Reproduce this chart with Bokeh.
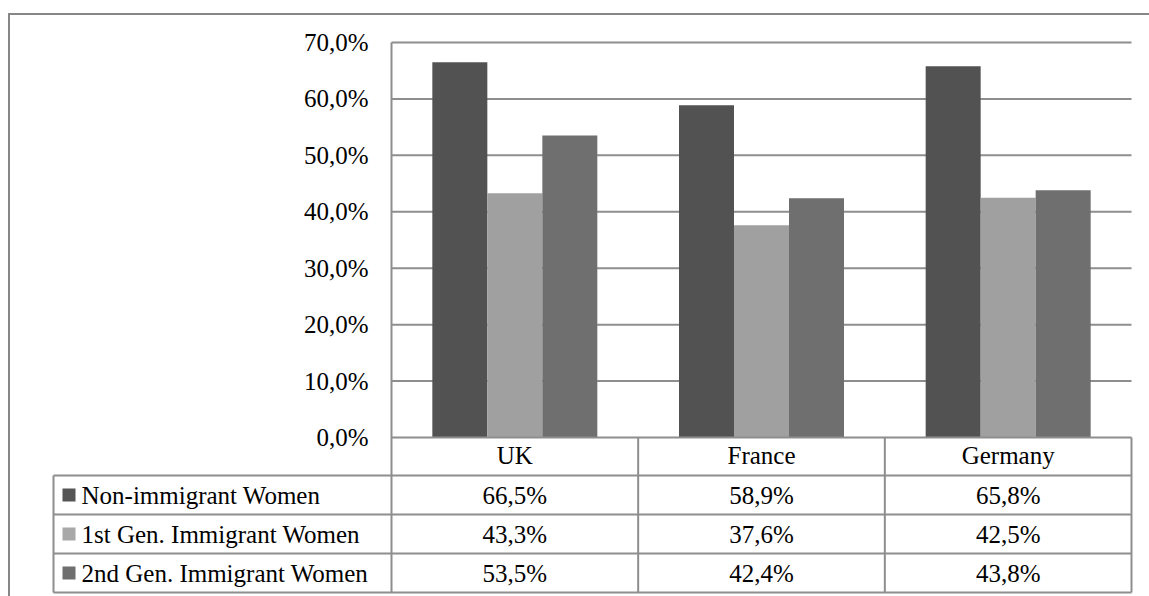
from bokeh.plotting import figure
from bokeh.models import Range1d, LinearAxis, FixedTicker
from bokeh.core.properties import value
from bokeh.embed import file_html
from bokeh.resources import INLINE

# ---------------- data ----------------
countries = ["UK", "France", "Germany"]
series_names = ["Non-immigrant Women", "1st Gen. Immigrant Women", "2nd Gen. Immigrant Women"]
non_immigrant = [66.5, 58.9, 65.8]
first_gen = [43.3, 37.6, 42.5]
second_gen = [53.5, 42.4, 43.8]
y_ticks = [0, 10, 20, 30, 40, 50, 60, 70]
y_tick_labels = ["0,0%", "10,0%", "20,0%", "30,0%", "40,0%", "50,0%", "60,0%", "70,0%"]

all_series = [non_immigrant, first_gen, second_gen]

# ---------------- style ----------------
bar_colors = ["#525252", "#a0a0a0", "#6f6f6f"]
key_colors = ["#555555", "#a8a8a8", "#6f6f6f"]
LINE = "#8e8e8e"
FONT = "Liberation Serif"
FS = "25px"

# ---------------- layout (canvas pixels) ----------------
W, H = 1149, 596
PL, PR, PT, PB = 391, 1131, 42, 437
ROW_Y = [437, 475, 514, 553, 592]
TABLE_L = 53
KEY_CX = 68.5
LABEL_X = 81
BAR_PX = 55
BORDER_X, BORDER_Y = 8.5, 13.5

ux = (PR - PL) / len(countries)
uy = (PB - PT) / y_ticks[-1]


def dx(px):
    return (px - PL) / ux


def dy(py):
    return (PB - py) / uy


p = figure(width=W, height=H,
           x_range=Range1d(dx(0), dx(W)), y_range=Range1d(dy(H), dy(0)),
           output_backend="svg", toolbar_location=None,
           x_axis_type=None, y_axis_type=None, min_border=0,
           outline_line_color=None, background_fill_color="white",
           border_fill_color="white")

# grid lines
grid_vals = y_ticks[1:]
p.segment(x0=[0] * len(grid_vals), x1=[len(countries)] * len(grid_vals),
          y0=grid_vals, y1=grid_vals, line_color=LINE, line_width=2)

# bars
bw = BAR_PX / ux
nser = len(all_series)
for s, vals in enumerate(all_series):
    xs = [i + 0.5 + (s - (nser - 1) / 2) * bw for i in range(len(countries))]
    p.vbar(x=xs, top=vals, bottom=0, width=bw, fill_color=bar_colors[s],
           line_color=None)

# table lines
tl = dx(TABLE_L)
hy = [dy(r) for r in ROW_Y[1:]]
p.segment(x0=[tl] * len(hy), x1=[len(countries)] * len(hy), y0=hy, y1=hy,
          line_color=LINE, line_width=2)
vx = [tl] + list(range(1, len(countries) + 1))
vy0 = [dy(ROW_Y[1])] + [0] * len(countries)
p.segment(x0=vx, x1=vx, y0=vy0, y1=[dy(ROW_Y[-1])] * len(vx),
          line_color=LINE, line_width=2)

# outer chart border (top and left; right/bottom lie outside the view)
p.segment(x0=[dx(BORDER_X - 1), dx(BORDER_X)], x1=[dx(W), dx(BORDER_X)],
          y0=[dy(BORDER_Y), dy(BORDER_Y - 1)], y1=[dy(BORDER_Y), dy(H)],
          line_color="#878787", line_width=2)

# y axis (real axis placed at the plot's left edge)
yax = LinearAxis(fixed_location=0, bounds=(dy(ROW_Y[-1]), y_ticks[-1]),
                 ticker=FixedTicker(ticks=y_ticks),
                 major_label_overrides=dict(zip(y_ticks, y_tick_labels)),
                 major_tick_in=0, major_tick_out=0, minor_tick_in=0, minor_tick_out=0,
                 major_label_standoff=23, axis_line_color=LINE, axis_line_width=2,
                 major_label_text_font=FONT, major_label_text_font_size=FS,
                 major_label_text_color="black")
p.add_layout(yax, "left")

# x axis (category names in table header row)
cat_x = [i + 0.5 for i in range(len(countries))]
xax = LinearAxis(fixed_location=0, bounds=(0, len(countries)),
                 ticker=FixedTicker(ticks=cat_x),
                 major_label_overrides=dict(zip(cat_x, countries)),
                 major_tick_in=0, major_tick_out=0, minor_tick_in=0, minor_tick_out=0,
                 major_label_standoff=4, axis_line_color=LINE, axis_line_width=2,
                 major_label_text_font=FONT, major_label_text_font_size=FS,
                 major_label_text_color="black")
p.add_layout(xax, "below")

# table body: values
row_centers = [dy((ROW_Y[r + 1] + ROW_Y[r + 2]) / 2) for r in range(nser)]
tx, ty, tt = [], [], []
for s, vals in enumerate(all_series):
    for i, v in enumerate(vals):
        tx.append(i + 0.5)
        ty.append(row_centers[s])
        tt.append(("%.1f%%" % v).replace(".", ","))
p.text(x=tx, y=ty, text=tt, text_align="center", text_baseline="middle",
       text_font=value(FONT), text_font_size=FS, text_color="black")

# table body: series keys and names
p.rect(x=[dx(KEY_CX)] * nser, y=row_centers, width=13, height=13,
       width_units="screen", height_units="screen", fill_color=key_colors,
       line_color=None)
p.text(x=[dx(LABEL_X)] * nser, y=row_centers, text=series_names,
       text_align="left", text_baseline="middle",
       text_font=value(FONT), text_font_size=FS, text_color="black")

open("out.html", "w").write(file_html(p, INLINE))
